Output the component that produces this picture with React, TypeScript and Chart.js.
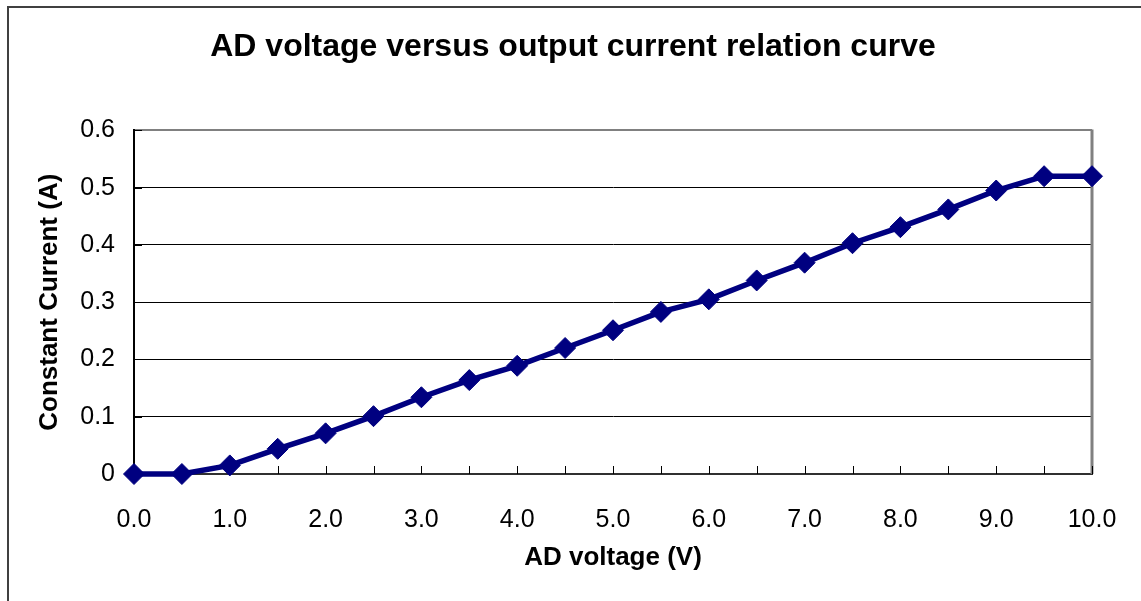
import React, { useEffect, useRef } from "react";
import { Chart, registerables } from "chart.js";

Chart.register(...registerables);

// ---- Data ----
const chartTitle = "AD voltage versus output current relation curve";
const xAxisTitle = "AD voltage (V)";
const yAxisTitle = "Constant Current (A)";

const adVoltageLabels = [
  "0.0", "0.5", "1.0", "1.5", "2.0", "2.5", "3.0", "3.5", "4.0", "4.5", "5.0",
  "5.5", "6.0", "6.5", "7.0", "7.5", "8.0", "8.5", "9.0", "9.5", "10.0",
];
const constantCurrent = [
  0, 0, 0.015, 0.044, 0.071, 0.101, 0.134, 0.164, 0.189, 0.22, 0.251,
  0.283, 0.305, 0.338, 0.369, 0.403, 0.431, 0.462, 0.495, 0.52, 0.52,
];
const yTickValues = [0, 0.1, 0.2, 0.3, 0.4, 0.5, 0.6];
const yTickLabels = ["0", "0.1", "0.2", "0.3", "0.4", "0.5", "0.6"];

const FONT = "'Liberation Sans', Arial, Helvetica, sans-serif";
const NAVY = "#000080";

const decorPlugin = {
  id: "decor",
  beforeDraw(chart: any) {
    const ctx = chart.ctx;
    ctx.save();
    ctx.strokeStyle = "#404040";
    ctx.lineWidth = 2;
    ctx.beginPath();
    ctx.moveTo(8, chart.height);
    ctx.lineTo(8, 7);
    ctx.lineTo(chart.width, 7);
    ctx.stroke();
    ctx.restore();
  },
  beforeDatasetsDraw(chart: any) {
    const ctx = chart.ctx;
    const { left, right, top, bottom } = chart.chartArea;
    const xs = chart.scales.x;
    const ys = chart.scales.y;
    ctx.save();
    // right border of plot area
    ctx.strokeStyle = "#808080";
    ctx.lineWidth = 3;
    ctx.beginPath();
    ctx.moveTo(right, top - 1);
    ctx.lineTo(right, bottom);
    ctx.stroke();
    // inward tick marks on x axis
    ctx.strokeStyle = "#000";
    ctx.lineWidth = 1;
    ctx.beginPath();
    for (let i = 1; i < adVoltageLabels.length; i++) {
      const px = Math.round(xs.getPixelForTick(i)) + 0.5;
      ctx.moveTo(px, bottom);
      ctx.lineTo(px, bottom - 8);
    }
    // inward tick marks on y axis
    for (const v of yTickValues) {
      const py = Math.round(ys.getPixelForValue(v)) + 0.5;
      ctx.moveTo(left, py);
      ctx.lineTo(left + 8, py);
    }
    ctx.stroke();
    ctx.restore();
  },
};

export default function App() {
  const canvasRef = useRef<HTMLCanvasElement | null>(null);

  useEffect(() => {
    const canvas = canvasRef.current;
    if (!canvas) return;
    const chart = new Chart(canvas, {
      type: "line",
      data: {
        labels: adVoltageLabels,
        datasets: [
          {
            label: "Constant Current",
            data: constantCurrent,
            borderColor: NAVY,
            backgroundColor: NAVY,
            borderWidth: 5.5,
            pointStyle: "rectRot",
            pointRadius: 10.5,
            pointHoverRadius: 10.5,
            pointBackgroundColor: NAVY,
            pointBorderColor: NAVY,
            pointBorderWidth: 1,
            tension: 0,
            clip: false as any,
            yAxisID: "y",
          },
        ],
      },
      options: {
        responsive: false,
        animation: false,
        layout: { padding: { left: 10, right: 5, top: 0, bottom: 0 } },
        plugins: {
          legend: { display: false },
          tooltip: { enabled: false },
          title: {
            display: true,
            text: chartTitle,
            color: "#000",
            font: { family: FONT, size: 32, weight: "bold" },
            padding: { top: 28, bottom: 64 },
          },
        },
        scales: {
          x: {
            type: "category",
            offset: false,
            grid: { display: false },
            border: { display: true, color: "#303030", width: 2 },
            ticks: {
              autoSkip: false,
              maxRotation: 0,
              minRotation: 0,
              padding: 23,
              color: "#000",
              font: { family: FONT, size: 25 },
              callback: (_v: any, i: number) => (i % 2 === 0 ? adVoltageLabels[i] : ""),
            },
            title: {
              display: true,
              text: xAxisTitle,
              color: "#000",
              font: { family: FONT, size: 26, weight: "bold" },
              padding: { top: 0, bottom: 28 },
            },
            afterFit: (scale: any) => {
              scale.height = 127;
            },
          },
          y: {
            type: "linear",
            position: "left",
            min: 0,
            max: 0.6,
            afterBuildTicks: (scale: any) => {
              scale.ticks = yTickValues.map((v) => ({ value: v }));
            },
            grid: {
              drawTicks: false,
              color: (c: any) => (Math.abs(c.tick.value - 0.6) < 1e-6 ? "#808080" : "#000"),
              lineWidth: (c: any) => (Math.abs(c.tick.value - 0.6) < 1e-6 ? 2 : 1),
            },
            border: { display: true, color: "#000", width: 2 },
            ticks: {
              padding: 19,
              color: "#000",
              font: { family: FONT, size: 25 },
              callback: (v: any) => {
                const idx = yTickValues.findIndex((t) => Math.abs(t - v) < 1e-6);
                return idx >= 0 ? yTickLabels[idx] : "";
              },
            },
            title: {
              display: true,
              text: yAxisTitle,
              color: "#000",
              font: { family: FONT, size: 26, weight: "bold" },
              padding: { top: 24, bottom: 0 },
            },
            afterFit: (scale: any) => {
              scale.width = 124;
            },
          },
          // empty right-hand spacer so the plot ends where the reference's does
          spacer: {
            type: "linear",
            position: "right",
            display: true,
            grid: { display: false },
            border: { display: false },
            ticks: { display: false },
            afterFit: (scale: any) => {
              scale.width = 44;
            },
          },
        },
      },
      plugins: [decorPlugin],
    });
    return () => chart.destroy();
  }, []);

  return (
    <div style={{ position: "absolute", left: 0, top: 0, width: 1141, height: 601, background: "#fff" }}>
      <canvas ref={canvasRef} width={1141} height={601} style={{ display: "block" }} />
    </div>
  );
}
